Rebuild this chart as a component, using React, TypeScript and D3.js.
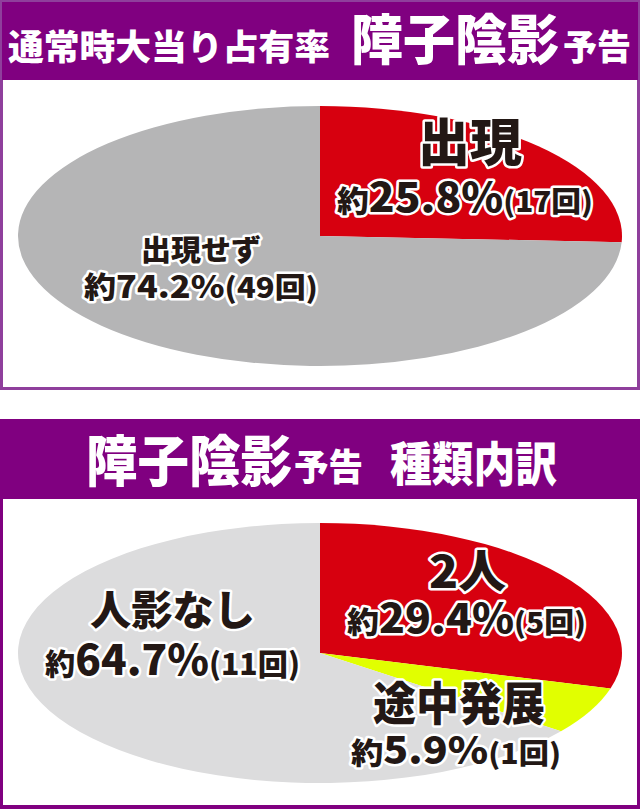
import React from "react";
import * as d3 from "d3";

// ---- data ----
const pie1Categories = ["出現", "出現せず"];
const pie1Counts = [17, 49];
const pie1Percents = ["25.8", "74.2"];
const pie1Colors = ["#d7000f", "#b5b5b6"];

const pie2Categories = ["2人", "途中発展", "人影なし"];
const pie2Counts = [5, 1, 11];
const pie2Percents = ["29.4", "5.9", "64.7"];
const pie2Colors = ["#d7000f", "#e1ff00", "#dcdcdd"];

const header1 = ["通常時大当り占有率", "障子陰影", "予告"];
const header2 = ["障子陰影", "予告", "種類内訳"];

const W = 640;
const H = 809;
const FONT = "'Noto Sans CJK JP', 'Noto Sans CJK SC', sans-serif";
const INK = "#231815";
const PURPLE = "#800080";

type Seg = { t: string; size: number };

function OutlinedText({ x, y, len, segs, fill = INK, stroke = true }: { x: number; y: number; len: number; segs: Seg[]; fill?: string; stroke?: boolean }) {
  return (
    <text
      x={x}
      y={y}
      textLength={len}
      lengthAdjust="spacingAndGlyphs"
      fontFamily={FONT}
      fontWeight={900}
      fill={fill}
      stroke={stroke ? "#ffffff" : "none"}
      strokeWidth={stroke ? 5 : 0}
      strokeLinejoin="round"
      style={{ paintOrder: "stroke" }}
    >
      {segs.map((s, i) => (
        <tspan key={i} fontSize={s.size}>
          {s.t}
        </tspan>
      ))}
    </text>
  );
}

function EllipsePie({ counts, colors, cx, cy, rx, ry }: { counts: number[]; colors: string[]; cx: number; cy: number; rx: number; ry: number }) {
  const pie = d3.pie<number>().sort(null).value((d) => d);
  const arcs = pie(counts);
  const arc = d3.arc<d3.PieArcDatum<number>>().innerRadius(0).outerRadius(ry);
  return (
    <g transform={`translate(${cx},${cy}) scale(${rx / ry},1)`}>
      {arcs.map((a, i) => (
        <path key={i} d={arc(a) || ""} fill={colors[i]} />
      ))}
    </g>
  );
}

function numSegs(pct: string, count: number, s1: number, s2: number, s3: number): Seg[] {
  return [
    { t: "約", size: s1 },
    { t: `${pct}%`, size: s2 },
    { t: `(${count}回)`, size: s3 },
  ];
}

export default function App() {
  return (
    <svg width={W} height={H} style={{ display: "block", position: "absolute", left: 0, top: 0 }}>
      <rect x={0} y={0} width={W} height={H} fill="#ffffff" />
      {/* Panel 1 */}
      <rect x={1.5} y={1.5} width={637} height={387} fill="#ffffff" stroke="#8f3f9c" strokeWidth={3} />
      <rect x={2} y={2} width={636} height={78} fill={PURPLE} />
      <g fontFamily={FONT} fontWeight={900} fill="#ffffff">
        <text x={8} y={60} fontSize={35} textLength={322} lengthAdjust="spacingAndGlyphs">{header1[0]}</text>
        <text x={351} y={60} fontSize={54} textLength={208} lengthAdjust="spacingAndGlyphs">{header1[1]}</text>
        <text x={563} y={60} fontSize={35} textLength={68} lengthAdjust="spacingAndGlyphs">{header1[2]}</text>
      </g>
      <EllipsePie counts={pie1Counts} colors={pie1Colors} cx={320} cy={236} rx={302} ry={130} />
      <OutlinedText x={418} y={161} len={104} segs={[{ t: pie1Categories[0], size: 51 }]} />
      <OutlinedText x={337} y={212} len={256} segs={numSegs(pie1Percents[0], pie1Counts[0], 30, 40, 28)} />
      <OutlinedText x={141} y={261} len={120} segs={[{ t: pie1Categories[1], size: 29 }]} />
      <OutlinedText x={84} y={298} len={234} segs={numSegs(pie1Percents[1], pie1Counts[1], 29, 31, 28)} />

      {/* Panel 2 */}
      <rect x={1.5} y={420.5} width={637} height={386} fill="#ffffff" stroke={PURPLE} strokeWidth={3} />
      <rect x={0} y={806} width={W} height={3} fill={PURPLE} />
      <rect x={0} y={419} width={W} height={80} fill={PURPLE} />
      <g fontFamily={FONT} fontWeight={900} fill="#ffffff">
        <text x={86} y={481} fontSize={55} textLength={206} lengthAdjust="spacingAndGlyphs">{header2[0]}</text>
        <text x={294} y={481} fontSize={37} textLength={69} lengthAdjust="spacingAndGlyphs">{header2[1]}</text>
        <text x={390} y={481} fontSize={47} textLength={167} lengthAdjust="spacingAndGlyphs">{header2[2]}</text>
      </g>
      <EllipsePie counts={pie2Counts} colors={pie2Colors} cx={320} cy={653} rx={302} ry={130} />
      <OutlinedText x={429} y={588} len={77} segs={[{ t: pie2Categories[0], size: 45 }]} />
      <OutlinedText x={347} y={633} len={239} segs={numSegs(pie2Percents[0], pie2Counts[0], 30, 40, 28)} />
      <OutlinedText x={90} y={625} len={165} segs={[{ t: pie2Categories[2], size: 41 }]} />
      <OutlinedText x={45} y={675} len={255} segs={numSegs(pie2Percents[2], pie2Counts[2], 30, 42, 30)} />
      <OutlinedText x={373} y={720} len={172} segs={[{ t: pie2Categories[1], size: 46 }]} />
      <OutlinedText x={351} y={764} len={210} segs={numSegs(pie2Percents[1], pie2Counts[1], 30, 38, 28)} />
    </svg>
  );
}
